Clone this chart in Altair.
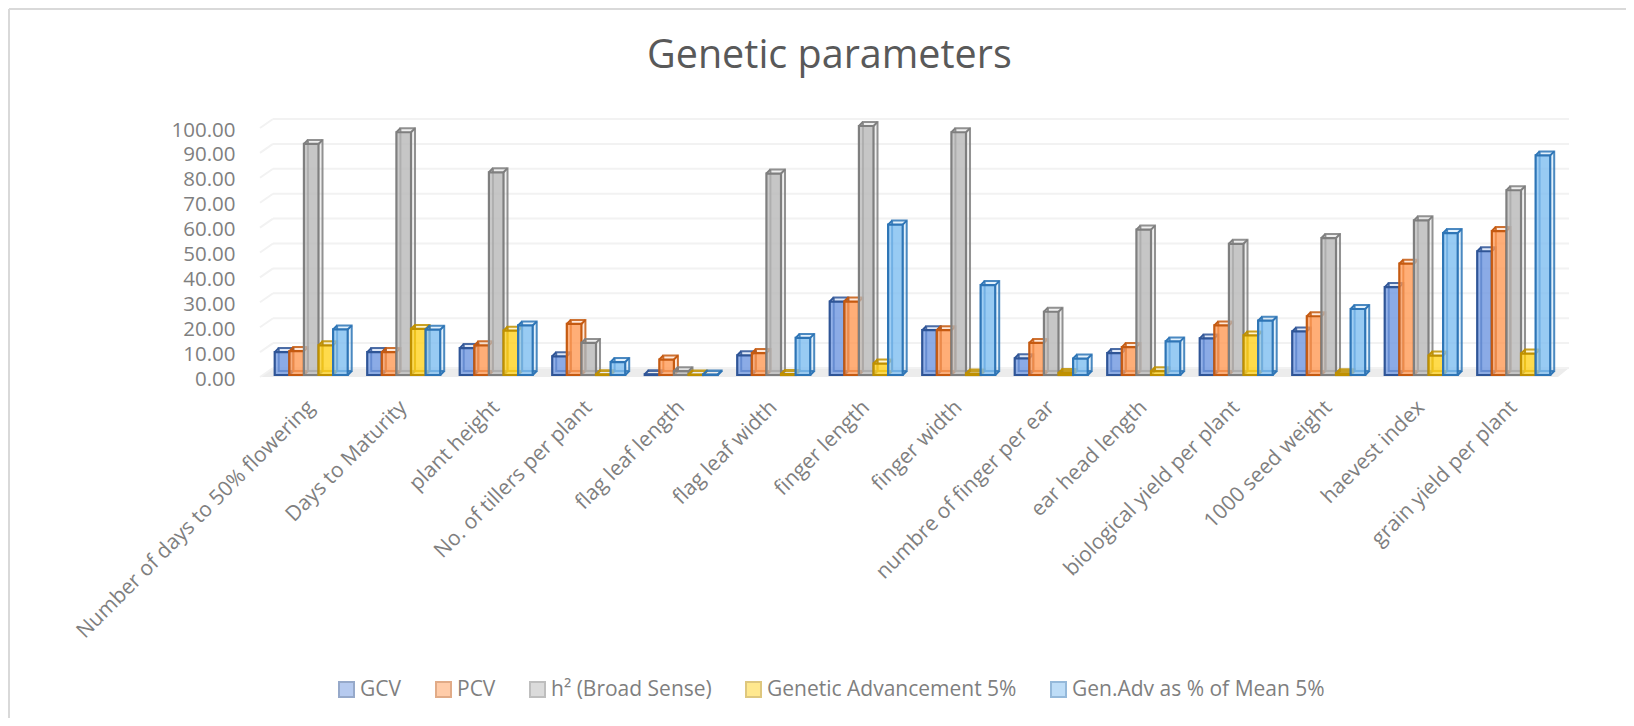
import altair as alt
import pandas as pd

categories = ["Number of days to 50% flowering", "Days to Maturity", "plant height",
              "No. of tillers per plant", "flag leaf length", "flag leaf width",
              "finger length", "finger width", "numbre of finger per ear",
              "ear head length", "biological yield  per plant", "1000 seed weight",
              "haevest index", "grain yield per plant"]
series = ["GCV", "PCV", "h² (Broad Sense)", "Genetic Advancement 5%", "Gen.Adv as % of Mean 5%"]
gcv = [9.2, 9.2, 10.8, 7.5, 0.3, 7.9, 29.5, 18.0, 6.7, 8.8, 14.7, 17.5, 35.3, 49.7]
pcv = [9.6, 9.2, 11.9, 20.5, 6.2, 8.8, 29.5, 18.0, 12.9, 11.2, 19.9, 23.6, 44.7, 57.8]
h2 = [92.8, 97.5, 81.4, 12.9, 1.5, 80.9, 100.0, 97.5, 25.4, 58.4, 52.7, 55.0, 62.1, 74.2]
ga = [11.9, 18.5, 17.8, 0.3, 0.2, 0.4, 4.6, 0.6, 0.8, 1.5, 15.9, 0.7, 7.8, 8.6]
gen = [18.3, 18.2, 19.9, 5.2, 0.2, 14.9, 60.4, 36.1, 6.6, 13.5, 21.8, 26.5, 57.0, 88.2]
ticks = [0, 10, 20, 30, 40, 50, 60, 70, 80, 90, 100]
fills = ["#6f97e0", "#ff9a55", "#b8b8b8", "#ffd21f", "#7fbdf0"]
strokes = ["#2f5597", "#c55a11", "#7f7f7f", "#bf9000", "#2e75b6"]

rows = []
for name, vals in zip(series, [gcv, pcv, h2, ga, gen]):
    for c, v in zip(categories, vals):
        rows.append({"cat": c, "series": name, "v": v, "zero": 0})
df = pd.DataFrame(rows)
tick_df = pd.DataFrame({"t": ticks})
one = pd.DataFrame({"a": [0]})

FONT = "Open Sans"
GREY = "#7f7f7f"
W, H = 1295, 249
DX, DY = 4, 4
GROUP = 73

y_scale = alt.Scale(domain=[0, 100], nice=False)
y_axis = alt.Axis(values=ticks, format=".2f", domain=False, ticks=False, grid=False,
                  labelFont=FONT, labelFontSize=20.5, labelColor=GREY, zindex=1,
                  labelPadding=30, labelOffset=4, labelOverlap=False, title=None)


def y_of(field):
    return alt.Y(field, scale=y_scale, axis=y_axis)


x_enc = alt.X("cat:N", sort=categories,
              scale=alt.Scale(paddingInner=0.21, paddingOuter=0.105),
              axis=alt.Axis(labelAngle=-45, labelAlign="right", labelBaseline="middle",
                            domain=False, ticks=False, grid=False, labelFont=FONT, zindex=1,
                            labelFontSize=21, labelColor=GREY, labelPadding=29,
                            labelLimit=500, labelOverlap=False, title=None))
xo_front = alt.XOffset("series:N", sort=series, scale=alt.Scale(domain=series, range=[0, GROUP]))
xo_back = alt.XOffset("series:N", sort=series, scale=alt.Scale(domain=series, range=[DX, GROUP + DX]))
col_scale = alt.Scale(domain=series, range=fills)
stk_scale = alt.Scale(domain=series, range=strokes)
legend = alt.Legend(
    orient="none", legendX=71, legendY=553, direction="horizontal", columns=5,
    gridAlign="none", symbolType="square", symbolSize=225, symbolOpacity=0.5,
    symbolStrokeWidth=2, symbolStrokeColor="#d4d4d4", labelFont=FONT, labelFontSize=21, labelColor=GREY,
    labelOffset=3, columnPadding=30, labelLimit=400, title=None)
fill_enc = alt.Fill("series:N", scale=col_scale, title=None, legend=legend)
stroke_enc = alt.Stroke("series:N", scale=stk_scale, legend=None)

frame_left = alt.Chart(one).mark_rule(color="#d9d9d9", strokeWidth=2).encode(
    x=alt.value(-256), y=alt.value(-117), y2=alt.value(600))
frame_top = alt.Chart(one).mark_rule(color="#d9d9d9", strokeWidth=2).encode(
    x=alt.value(-256), x2=alt.value(1376), y=alt.value(-117))

floor = alt.Chart(one).mark_point(
    shape="M-5,2L8,-7L1304,-7L1293,2Z", size=4, filled=True, fill="#ececec", opacity=1).encode(
    x=alt.value(0), y=y_of("a:Q"))

back_grid = alt.Chart(tick_df).mark_rule(color="#f2f2f2", strokeWidth=2, yOffset=-7).encode(
    x=alt.value(8), x2=alt.value(1304), y=y_of("t:Q"))
side_grid = alt.Chart(tick_df).mark_point(
    shape="M-5,2L8,-7", size=4, filled=False, stroke="#f2f2f2", strokeWidth=2, opacity=1).encode(
    x=alt.value(0), y=y_of("t:Q"))

layers = [frame_left, frame_top, floor, back_grid, side_grid]
for s in series:
    d = df[df.series == s]
    base = alt.Chart(d)
    back = base.mark_bar(yOffset=-DY, y2Offset=-DY, fillOpacity=0.22, strokeWidth=2, strokeOpacity=0.85).encode(
        x=x_enc, xOffset=xo_back, y=y_of("v:Q"), y2=alt.Y2("zero:Q"), fill=fill_enc, stroke=stroke_enc)
    top = base.mark_point(shape="M-7.3,0L-3.3,-4M7.3,0L11.3,-4", size=4, filled=False, strokeWidth=2, opacity=1).encode(
        x=x_enc, xOffset=xo_front, y=y_of("v:Q"), stroke=stroke_enc)
    foot = base.mark_point(shape="M7.3,0L11.3,-4", size=4, filled=False, strokeWidth=2, opacity=1).encode(
        x=x_enc, xOffset=xo_front, y=y_of("zero:Q"), stroke=stroke_enc)
    front = base.mark_bar(fillOpacity=0.75, strokeWidth=2.2).encode(
        x=x_enc, xOffset=xo_front, y=y_of("v:Q"), y2=alt.Y2("zero:Q"), fill=fill_enc, stroke=stroke_enc)
    layers += [back, foot, top, front]

chart = alt.layer(*layers).resolve_scale(xOffset="independent").properties(
    width=W, height=H,
    title=alt.TitleParams("Genetic parameters", font=FONT, fontSize=39.5, fontWeight="normal",
                          color="#595959", anchor="start", dx=639, dy=72),
    padding={"left": 257, "top": 118, "right": 66, "bottom": 343},
    autosize=alt.AutoSizeParams(type="none"),
    background="white",
).configure_view(stroke=None)
chart.save("out.html", embed_options={"renderer": "svg", "actions": False})
